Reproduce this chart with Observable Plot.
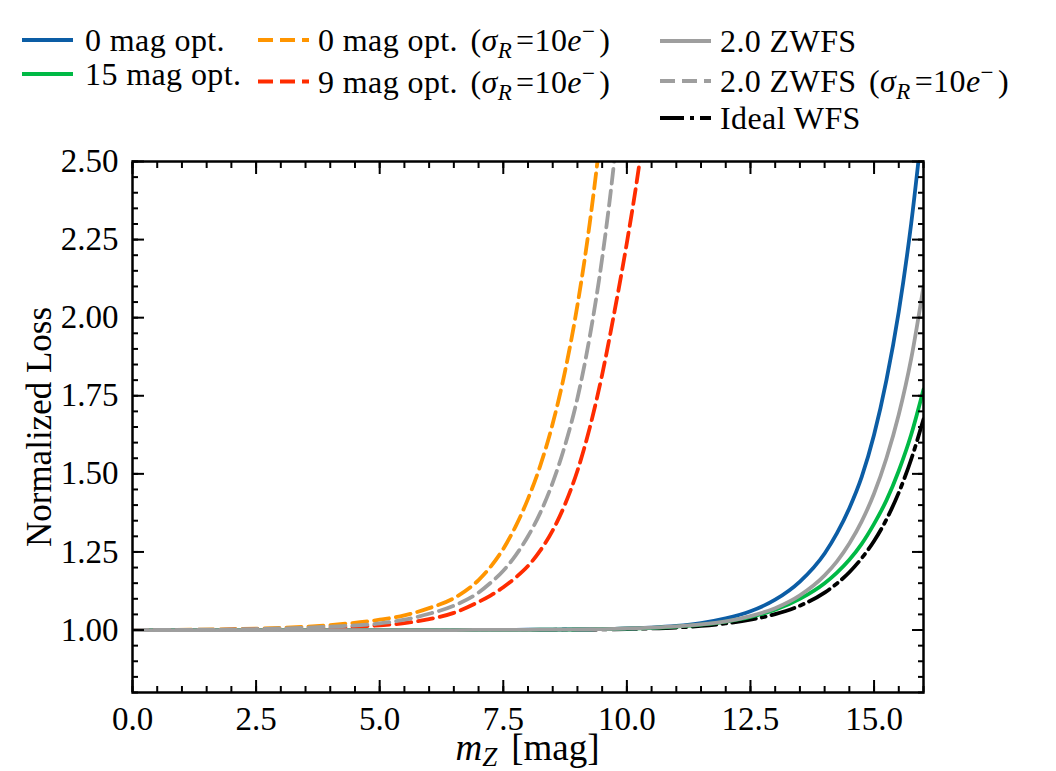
<!DOCTYPE html>
<html><head><meta charset="utf-8">
<script src="https://cdn.jsdelivr.net/npm/d3@7"></script>
<script src="https://cdn.jsdelivr.net/npm/@observablehq/plot@0.6"></script>
<style>
html,body{margin:0;padding:0;background:#fff;}
#chart svg{display:block;}
</style></head><body><div id="chart"></div>
<script>
// ---- data ----
const mag = [0, 2, 4, 5, 5.5, 6, 6.5, 7, 7.25, 7.5, 7.75, 8, 8.25, 8.5, 8.75, 9, 9.25, 9.5, 9.75, 10, 10.25, 10.5, 11, 11.5, 12, 12.5, 13, 13.5, 14, 14.25, 14.5, 14.75, 15, 15.25, 15.5, 15.75, 16];

const loss0magOpt  = [1.000, 1.000, 1.000, 1.000, 1.000, 1.000, 1.000, 1.0004, 1.0005, 1.0006, 1.0008, 1.001, 1.0012, 1.0014, 1.0017, 1.002, 1.0025, 1.003, 1.004, 1.005, 1.0065, 1.008, 1.013, 1.022, 1.037, 1.060, 1.097, 1.155, 1.245, 1.310, 1.390, 1.490, 1.625, 1.800, 2.020, 2.300, 2.650];
const loss15magOpt = [1.000, 1.000, 1.000, 1.000, 1.000, 1.000, 1.000, 1.0003, 1.0004, 1.0005, 1.0006, 1.0008, 1.001, 1.0012, 1.0015, 1.002, 1.0024, 1.003, 1.0037, 1.0045, 1.0055, 1.007, 1.011, 1.017, 1.027, 1.042, 1.065, 1.100, 1.150, 1.184, 1.225, 1.276, 1.340, 1.415, 1.510, 1.625, 1.770];
const loss0magRN   = [1.000, 1.003, 1.016, 1.033, 1.047, 1.070, 1.102, 1.160, 1.204, 1.260, 1.332, 1.420, 1.527, 1.661, 1.829, 2.040, 2.304, 2.635, 3.050, null, null, null, null, null, null, null, null, null, null, null, null, null, null, null, null, null, null];
const loss9magRN   = [1.000, 1.001, 1.007, 1.015, 1.022, 1.035, 1.055, 1.090, 1.111, 1.137, 1.168, 1.205, 1.255, 1.319, 1.403, 1.510, 1.648, 1.818, 2.020, 2.240, 2.490, 2.800, null, null, null, null, null, null, null, null, null, null, null, null, null, null, null];
const lossZWFS     = [1.000, 1.000, 1.000, 1.000, 1.000, 1.000, 1.000, 1.0003, 1.0004, 1.0005, 1.0006, 1.0008, 1.001, 1.0012, 1.0015, 1.002, 1.0025, 1.0032, 1.004, 1.005, 1.006, 1.0075, 1.0115, 1.018, 1.028, 1.0445, 1.070, 1.111, 1.175, 1.220, 1.277, 1.348, 1.437, 1.550, 1.690, 1.868, 2.100];
const lossZWFSRN   = [1.000, 1.002, 1.011, 1.021, 1.033, 1.052, 1.078, 1.120, 1.152, 1.190, 1.239, 1.300, 1.376, 1.472, 1.592, 1.742, 1.940, 2.190, 2.510, 2.920, null, null, null, null, null, null, null, null, null, null, null, null, null, null, null, null, null];
const lossIdeal    = [1.000, 1.000, 1.000, 1.000, 1.000, 1.000, 1.000, 1.0002, 1.0003, 1.0003, 1.0004, 1.0005, 1.0006, 1.0008, 1.001, 1.0012, 1.0015, 1.002, 1.0025, 1.003, 1.004, 1.005, 1.008, 1.013, 1.021, 1.033, 1.051, 1.078, 1.120, 1.149, 1.185, 1.230, 1.285, 1.354, 1.440, 1.546, 1.675];

// legend order (column-major, as in the reference)
const seriesNames  = ["0 mag opt.", "15 mag opt.", "0 mag opt.", "9 mag opt.", "2.0 ZWFS", "2.0 ZWFS", "Ideal WFS"];
const seriesNoise  = [false, false, true, true, false, true, false];   // label gets "(σR=10e−)"
const seriesColors = ["#0C5DA5", "#00B945", "#FF9500", "#FF2C00", "#9e9e9e", "#9e9e9e", "#000000"];
const seriesDash   = [null, null, "15,7", "15,7", null, "15,7", "24,6,4,6"];
const seriesValues = [loss0magOpt, loss15magOpt, loss0magRN, loss9magRN, lossZWFS, lossZWFSRN, lossIdeal];
const drawOrder    = [6, 0, 1, 2, 3, 4, 5];

const xMajor = [0, 2.5, 5, 7.5, 10, 12.5, 15];
const yMajor = [1.0, 1.25, 1.5, 1.75, 2.0, 2.25, 2.5];
const xMinor = d3.range(0, 33).map(i => i * 0.5);
const yMinor = d3.range(16, 51).map(i => i * 0.05);

const xLabelParts = {main: "m", sub: "Z", rest: "[mag]"};
const yLabel = "Normalized Loss";

// ---- chart ----
const FONT = "'Liberation Serif', 'Times New Roman', serif";
const LW = 3.8;

const lineMarks = drawOrder.map(k =>
  Plot.line(mag.map((m, i) => ({mag: m, loss: seriesValues[k][i]})), {
    x: "mag", y: "loss", stroke: seriesColors[k], strokeWidth: LW,
    strokeDasharray: seriesDash[k], curve: "monotone-x", clip: true
  })
);

const tk = {strokeWidth: 2, tickFormat: () => "", label: null};

const plot = Plot.plot({
  width: 1056, height: 771,
  marginTop: 161, marginBottom: 79, marginLeft: 132, marginRight: 133,
  x: {domain: [0, 16]},
  y: {domain: [0.8, 2.5]},
  style: {fontFamily: FONT, fontSize: "33px", color: "black", background: "white"},
  marks: [
    ...lineMarks,
    Plot.axisX({anchor: "bottom", ticks: xMinor, tickSize: -6, ...tk}),
    Plot.axisX({anchor: "top", ticks: xMinor, tickSize: -6, ...tk}),
    Plot.axisX({anchor: "bottom", ticks: xMajor, tickSize: -12, ...tk}),
    Plot.axisX({anchor: "top", ticks: xMajor, tickSize: -12, ...tk}),
    Plot.axisY({anchor: "left", ticks: yMinor, tickSize: -6, ...tk}),
    Plot.axisY({anchor: "right", ticks: yMinor, tickSize: -6, ...tk}),
    Plot.axisY({anchor: "left", ticks: yMajor, tickSize: -12, ...tk}),
    Plot.axisY({anchor: "right", ticks: yMajor, tickSize: -12, ...tk}),
    Plot.axisX({anchor: "bottom", ticks: xMajor, tickSize: 0, tickPadding: 14, tickFormat: d => d.toFixed(1), label: null}),
    Plot.axisY({anchor: "left", ticks: yMajor, tickSize: 0, tickPadding: 14, tickFormat: d => d.toFixed(2), label: null}),
    Plot.frame({stroke: "black", strokeWidth: 2.5}),
    Plot.text([yLabel], {text: d => d, frameAnchor: "left", rotate: -90, dx: -93, fontSize: 35, textAnchor: "middle", lineAnchor: "middle"})
  ]
});

document.getElementById("chart").append(plot);

const svg = d3.select(plot);
const xr = plot.scale("x").range;

// x label with subscript
const xl = svg.append("text")
  .attr("x", (xr[0] + xr[1]) / 2).attr("y", 760)
  .attr("text-anchor", "middle").attr("font-size", 37).attr("font-family", FONT).attr("fill", "black");
xl.append("tspan").attr("font-style", "italic").text(xLabelParts.main);
xl.append("tspan").attr("font-style", "italic").attr("font-size", 27).attr("dy", 6).text(xLabelParts.sub);
xl.append("tspan").attr("dy", -6).attr("dx", 14).text(xLabelParts.rest);

// legend (3 columns, column-major like matplotlib)
const legendCols = [[0, 1], [2, 3], [4, 5, 6]];
const colX = [22, 258, 660];
const textX = [85, 318, 720];
const rowY = [[40, 74], [40, 81.5], [41, 81, 118]];
const g = svg.append("g").attr("font-family", FONT).attr("font-size", 32).attr("letter-spacing", 0.4)
  .attr("fill", "black").attr("text-anchor", "start");
legendCols.forEach((col, c) => {
  col.forEach((k, r) => {
    const y = rowY[c][r];
    g.append("line")
      .attr("x1", colX[c]).attr("x2", colX[c] + 51).attr("y1", y).attr("y2", y)
      .attr("stroke", seriesColors[k]).attr("stroke-width", LW)
      .attr("stroke-dasharray", seriesDash[k]);
    const t = g.append("text").attr("x", textX[c]).attr("y", y + 11).attr("text-anchor", "start");
    t.append("tspan").text(seriesNames[k]);
    if (seriesNoise[k]) {
      t.append("tspan").attr("dx", 4).text(" (");
      t.append("tspan").attr("font-style", "italic").text("σ");
      t.append("tspan").attr("font-style", "italic").attr("font-size", 23).attr("dy", 7).text("R");
      t.append("tspan").attr("dy", -7).attr("dx", 4).text("=10");
      t.append("tspan").attr("font-style", "italic").text("e");
      t.append("tspan").attr("font-size", 23).attr("dy", -12).text("−");
      t.append("tspan").attr("dy", 12).attr("dx", 4).text(")");
    }
  });
});
</script></body></html>
